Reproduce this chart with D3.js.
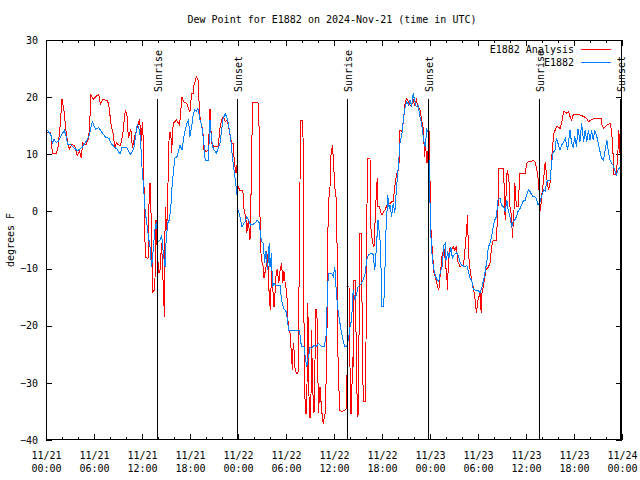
<!DOCTYPE html>
<html><head><meta charset="utf-8">
<script src="https://cdn.jsdelivr.net/npm/d3@7"></script>
<style>
body{margin:0;background:#fff}
text{font-family:"DejaVu Sans Mono",monospace;font-size:10px;fill:#000}
</style>
</head><body><svg id="c" width="640" height="480"></svg>
<script>
const chartTitle = "Dew Point for E1882 on 2024-Nov-21 (time in UTC)";
const yLabel = "degrees F";
const seriesNames = ["E1882 Analysis", "E1882"];
const seriesColors = ["#ff0000", "#0080ff"];
const yTickValues = [-40, -30, -20, -10, 0, 10, 20, 30];
const startTime = "2024-11-21T00:00:00Z";
const endTime = "2024-11-24T00:00:00Z";
const sunriseTimes = ["2024-11-21T13:49:00Z", "2024-11-22T13:41:00Z", "2024-11-23T13:40:00Z"];
const sunsetTimes = ["2024-11-21T23:55:00Z", "2024-11-22T23:47:00Z", "2024-11-23T23:43:00Z"];

// [hours since start, value]
const analysisSeries = [
[0,13.8],[0.6,13.8],[0.8,10.1],[1.3,10.1],[1.5,11.2],[1.75,14.7],[2,19.6],[2.25,17.6],[2.45,14.7],[2.7,12],[2.9,10.9],[3.2,11.7],[3.6,11.5],[3.9,9.7],[4.2,10.6],[4.4,9.4],[4.6,12],[5,11.7],[5.3,12.6],[5.45,14.7],[5.6,20.5],[5.9,19.6],[6.3,20.2],[6.6,20.5],[6.8,18.7],[7.1,19.6],[7.7,19.4],[7.9,18.1],[8.1,15.5],[8.4,13.5],[8.6,11.2],[8.8,12],[9,11.7],[9.3,11.5],[9.6,13.5],[9.9,17.6],[10.1,17.3],[10.3,12.9],[10.6,14.4],[10.8,11.2],[11.1,13.2],[11.4,14.7],[11.7,16.1],[11.9,12.3],[12.05,15.7],[12.2,11.2],[12.3,-2.5],[12.45,-8],[12.75,-8.3],[12.9,3],[13,5],[13.2,-3.25],[13.3,-14.1],[13.6,-13.75],[13.75,-1.5],[13.9,-6.75],[14.1,-10.8],[14.25,-10.25],[14.45,-5.6],[14.7,-14.6],[14.8,-18.4],[14.9,0.8],[15.1,-3.25],[15.25,4.9],[15.4,13.8],[15.6,13.8],[15.7,10.2],[15.9,15.4],[16.1,15.7],[16.3,16],[16.7,15.1],[17,20.1],[17.2,19.2],[17.6,18.9],[17.8,18],[18,17.5],[18.2,20.7],[18.4,20.7],[18.5,22.1],[18.8,23.5],[19,23],[19.2,17.2],[19.3,16],[19.6,14.25],[19.75,10.75],[20,10.5],[20.3,10.75],[20.5,18],[20.7,11.9],[20.8,11.6],[21.1,11.3],[21.5,11.3],[21.75,14.5],[21.95,16],[22.2,16.6],[22.4,15.7],[22.6,16],[22.8,15.1],[23,13.4],[23.2,12],[23.4,11.9],[23.5,9.6],[23.7,6.7],[23.8,8.1],[24,4.5],[24.2,3.75],[24.6,3.75],[24.75,0.5],[25,-1.5],[25.1,-3.8],[25.3,-1.5],[25.5,-5],[25.6,0.8],[25.75,13.1],[25.8,19],[26.5,19],[26.7,12.5],[26.75,-0.9],[26.9,-8.5],[27.1,-9.1],[27.25,-11.7],[27.5,-9.7],[27.6,-7],[27.8,-10.25],[27.9,-14.9],[28.05,-17.25],[28.2,-9.7],[28.3,-12.6],[28.5,-16.7],[28.6,-14.9],[28.75,-11.4],[28.9,-10],[29.1,-12.6],[29.25,-10.5],[29.45,-9.1],[29.6,-12.6],[29.75,-10.5],[29.9,-12.6],[30.1,-14.3],[30.3,-20.75],[30.5,-21.3],[30.7,-25.4],[30.8,-27.75],[30.9,-23.1],[31.05,-24.8],[31.1,-27.2],[31.3,-28.3],[31.5,-28.3],[31.6,-17.25],[31.75,4.9],[31.8,16],[32.1,16],[32.2,4.9],[32.25,-19.6],[32.4,-35.3],[32.6,-35.3],[32.7,-16],[32.8,-20.75],[32.9,-36],[33.1,-36],[33.2,-20.75],[33.3,-30.1],[33.5,-35.3],[33.75,-17],[33.9,-19],[34.05,-35.3],[34.25,-30.7],[34.45,-34.75],[34.65,-37.1],[34.9,-35.3],[35.1,-25.4],[35.2,-7.3],[35.3,1.4],[35.5,4.3],[35.6,9.6],[35.8,11.6],[35.9,9.6],[36.1,4.3],[36.3,2],[36.4,-7.9],[36.5,-25.4],[36.7,-34.75],[37,-35],[37.4,-34.75],[37.6,-34.5],[37.7,-13.2],[37.875,-13.2],[38,-27.2],[38.1,-35.3],[38.2,-35.3],[38.3,-25.4],[38.4,-27.2],[38.5,-12],[38.7,-12],[38.8,-29.5],[39,-35.9],[39.1,-25.4],[39.25,-3.8],[39.45,-3.8],[39.55,-27.2],[39.7,-33.3],[39.9,-33.3],[40,-23.1],[40.1,-1.5],[40.2,9.3],[40.5,9.3],[40.6,-2.7],[40.8,-5.3],[41,-6.2],[41.2,0.5],[41.3,3.2],[41.4,5.8],[41.5,0.8],[41.7,0.8],[41.8,0],[42,-0.6],[42.2,0],[42.4,0.25],[42.6,1.1],[42.8,1.4],[43,1.4],[43.2,1.7],[43.4,1.7],[43.6,4.3],[43.8,6.4],[44,7.25],[44.1,7.25],[44.25,14.25],[44.5,14],[44.7,16],[44.8,17.75],[44.9,19.2],[45.1,19.8],[45.3,19.2],[45.5,18.6],[45.7,18.6],[45.9,19.5],[46.1,18.6],[46.3,19.5],[46.5,18.3],[46.75,17.75],[46.95,16],[47.2,14.25],[47.3,9.6],[47.4,12.8],[47.6,8.4],[47.7,9],[47.875,14.25],[48,5.5],[48.1,-2.7],[48.3,-7],[48.5,-10.8],[48.75,-11.9],[48.95,-13.2],[49.1,-13.75],[49.3,-10.8],[49.5,-7.9],[49.75,-6.5],[49.9,-8.5],[50.1,-11.4],[50.2,-13.75],[50.3,-7.9],[50.5,-6.5],[50.7,-6.75],[50.9,-6.2],[51.1,-6.75],[51.3,-6.2],[51.5,-8.8],[51.75,-9.7],[51.95,-9.4],[52.2,-9.4],[52.4,-6.2],[52.6,-2.7],[52.7,-0.6],[52.8,-7.3],[53,-10],[53.2,-12],[53.4,-13.2],[53.6,-14.9],[53.8,-17.8],[54,-15.5],[54.25,-14.3],[54.4,-17.8],[54.5,-14.3],[54.8,-12],[55,-10.25],[55.3,-9.7],[55.5,-9.1],[55.7,-6.2],[55.9,-5],[56.3,-5],[56.5,0.8],[56.6,7.5],[57.2,7.5],[57.3,2.6],[57.4,-1.5],[57.6,6.7],[57.7,7],[57.9,4.9],[58,0.8],[58.2,-0.9],[58.3,-4.7],[58.5,0.25],[58.6,4.9],[58.8,0.8],[59,0.8],[59.25,6.7],[59.9,6.7],[60.1,8.4],[60.3,8.7],[60.7,8.7],[60.9,9],[61.1,8.7],[61.3,7.8],[61.5,5.8],[61.7,2.6],[61.8,0],[62,3.2],[62.2,5.5],[62.4,8.7],[62.6,5.8],[62.8,3.75],[63,4.9],[63.2,8.7],[63.3,11.3],[63.5,13.7],[63.8,14.8],[64,14.8],[64.25,14.5],[64.45,15.4],[64.7,17.5],[65.1,17.2],[65.3,17.5],[65.5,16.6],[65.7,16],[65.9,16.9],[66.75,16.9],[67.2,16.6],[67.6,16.3],[67.8,15.7],[68.2,16.1],[68.6,16.3],[69.4,16.3],[69.5,15.1],[69.7,14.5],[70.1,15.1],[70.5,15.4],[70.7,14.25],[70.9,9.6],[71,6.4],[71.3,6.4],[71.5,10.75],[71.6,14.25],[71.75,10.2],[72,12]
];
const stationSeries = [
[0,14.4],[0.6,13.5],[0.8,12],[1,12.6],[1.3,12],[1.6,12.4],[2,13.5],[2.3,14.2],[2.5,13.2],[2.7,11.7],[3.1,11.7],[3.4,11.2],[3.7,10.9],[3.9,10.6],[4.2,10.9],[4.5,11.2],[4.9,12],[5.4,13.2],[5.6,14.7],[5.8,15.7],[6,15],[6.2,14.4],[6.6,14.7],[7,13.8],[7.5,12.9],[7.9,12.8],[8.1,12],[8.5,11.3],[8.9,10.9],[9.25,10],[9.5,11.2],[10.1,11.2],[10.3,10.6],[10.6,9.9],[11,11.2],[11.4,15.2],[11.6,14.7],[11.8,12.9],[12,7.7],[12.2,4.2],[12.4,0],[12.6,-2.1],[12.8,-4.4],[13,-6.2],[13.2,-9.7],[13.4,-6.7],[13.6,-3.25],[13.8,-1.8],[14,-5.3],[14.25,-5],[14.45,-4.1],[14.7,-7.9],[14.9,-9.7],[15,-5.6],[15.2,-2.1],[15.4,-1.5],[15.6,0.5],[15.7,3.5],[15.9,6.5],[16.1,9.3],[16.4,9.6],[16.75,11.6],[17,10.75],[17.2,12.8],[17.4,14.25],[17.6,15.4],[17.8,16],[18,13.1],[18.2,14.8],[18.4,16.9],[18.6,17.75],[18.8,17.5],[19,18],[19.25,16],[19.45,15.1],[19.7,12.5],[19.9,9],[20.3,9],[20.5,16],[20.7,12.5],[20.9,11],[21.3,10.2],[21.75,11.9],[22.1,16],[22.4,17.2],[22.7,16],[22.9,14.5],[23.1,12.5],[23.3,9.6],[23.5,7.25],[23.75,4.5],[23.9,2.6],[24,0.25],[24.25,-0.9],[24.5,-2.7],[24.7,-2.1],[24.9,-1.8],[25.1,-0.9],[25.3,-1.5],[25.6,-2.4],[26.1,-2.1],[26.4,-1.5],[26.7,-2.1],[26.8,-4.4],[27,-5.3],[27.2,-5.6],[27.3,-9.1],[27.5,-7],[27.7,-10.25],[27.9,-5.6],[28,-9.7],[28.2,-7.3],[28.3,-13.2],[28.5,-12.6],[28.75,-12.9],[29.25,-12.9],[29.45,-15.5],[29.7,-17],[30,-17.5],[30.2,-19],[30.3,-20.75],[31.7,-20.75],[31.8,-22.5],[31.95,-23.7],[32.25,-23.7],[32.4,-25.4],[32.6,-27.2],[32.7,-26],[32.9,-24.8],[33,-23.7],[33.2,-24],[33.5,-23.4],[33.75,-23.7],[34.05,-23.1],[34.45,-23.7],[34.75,-23.7],[35,-21.9],[35.2,-13.75],[35.3,-10.8],[35.7,-10.8],[35.9,-11.4],[36.1,-9.7],[36.3,-14.3],[36.5,-17.25],[36.75,-19.6],[36.95,-21.3],[37.2,-23.1],[37.4,-23.7],[37.6,-23.5],[37.8,-22.5],[38,-20.2],[38.2,-19],[38.4,-13.75],[38.6,-15.5],[38.8,-14.6],[39,-13.2],[39.45,-12.6],[39.7,-11.7],[39.9,-10.8],[40.1,-8.5],[40.3,-7.6],[40.7,-7.3],[40.9,-7.6],[41.1,-10.25],[41.3,-6.2],[41.5,-1.5],[41.75,-5],[41.9,-10.8],[42,-16.7],[42.2,-16.7],[42.3,-13.75],[42.5,-3.25],[42.6,-0.9],[42.7,2.9],[42.9,0.5],[43,1.1],[43.2,-0.9],[43.4,1.4],[43.6,-0.3],[43.8,3.75],[44,7.25],[44.25,11.9],[44.5,13.7],[44.7,16.6],[44.9,18.3],[45.1,19.2],[45.3,18.6],[45.5,19.5],[45.7,18.3],[45.9,20.7],[46.1,19.2],[46.3,18.3],[46.5,18.6],[46.75,16.6],[46.95,15.4],[47.2,12.5],[47.4,11.3],[47.6,14.25],[47.8,13.7],[48,1.5],[48.1,-4],[48.3,-8.5],[48.5,-10.25],[48.7,-11.4],[48.9,-12],[49.1,-12.3],[49.3,-10.5],[49.5,-9.7],[49.75,-5.9],[49.9,-5.6],[50,-8.5],[50.2,-7.3],[50.4,-8.2],[50.6,-6.2],[50.8,-8.2],[51,-7.6],[51.3,-7.2],[51.5,-7.6],[51.75,-8.8],[51.95,-9.4],[52.4,-9.7],[52.6,-9.4],[52.8,-10.5],[53,-11.7],[53.2,-12],[53.4,-13.5],[53.6,-13.75],[54,-13.75],[54.25,-14.3],[54.5,-13.2],[54.7,-12],[54.9,-10.5],[55.1,-8.8],[55.3,-6.2],[55.5,-5.6],[55.7,-4.4],[55.9,-2.7],[56.1,-1.5],[56.3,-0.9],[56.5,2],[56.75,2.3],[56.95,1.1],[57.2,0.8],[57.4,0],[57.6,2],[57.8,0],[58,-0.9],[58.2,-2.7],[58.4,-1.8],[58.6,-1.5],[58.8,-0.9],[59,0],[59.25,0.5],[59.45,1.1],[59.7,2],[59.9,2],[60.1,2.9],[60.3,3.75],[60.5,3.5],[60.7,2.9],[60.9,2.6],[61.1,2.6],[61.3,2.3],[61.5,1.1],[61.75,1.7],[62,2.9],[62.2,3.75],[62.4,3.5],[62.6,5.2],[62.8,5.5],[63,5.5],[63.2,8.4],[63.4,10.5],[63.6,10.5],[63.8,12.8],[64,11.9],[64.25,10.75],[64.45,11.6],[64.7,12.2],[64.9,12.8],[65.1,11.6],[65.2,10.75],[65.4,13.1],[65.5,14.25],[65.7,11.9],[65.9,11.3],[66.1,13.1],[66.3,11.3],[66.5,14.5],[66.75,12.2],[66.95,15.4],[67.2,12.2],[67.4,14.25],[67.6,12.2],[67.8,14.25],[68,12.5],[68.2,14.25],[68.4,12.5],[68.6,14.25],[68.8,13.4],[69,12.2],[69.25,10.5],[69.45,9.3],[69.7,9],[69.9,10.75],[70.1,12.5],[70.3,10.5],[70.5,9],[70.7,8.4],[70.9,8.1],[71.1,7.25],[71.3,6.4],[71.5,7.25],[71.75,7.8],[72,8.5]
];

const svg = d3.select("#c");
const W = 640, H = 480;
const m = {left: 46, right: 622, top: 40, bottom: 440};
const t0 = new Date(startTime), t1 = new Date(endTime);
const x = d3.scaleUtc().domain([t0, t1]).range([m.left, m.right]);
const y = d3.scaleLinear().domain([-40, 30]).range([m.bottom, m.top]);
const hToDate = h => new Date(t0.getTime() + h * 3600e3);

svg.append("rect").attr("width", W).attr("height", H).attr("fill", "#fff");

svg.append("text").attr("x", 332).attr("y", 23).attr("text-anchor", "middle").text(chartTitle);
svg.append("text").attr("transform", "translate(14,240) rotate(-90)").attr("text-anchor", "middle").text(yLabel);

const majorTicks = d3.utcHour.every(6).range(t0, new Date(t1.getTime() + 1));
const minorTicks = d3.utcHour.every(2).range(t0, new Date(t1.getTime() + 1)).filter(d => d.getUTCHours() % 6 !== 0);

function styleAxis(g) {
  g.select(".domain").remove();
  g.selectAll("line").attr("stroke", "#000").attr("shape-rendering", "crispEdges");
}

const gxb = svg.append("g").attr("transform", `translate(0,${m.bottom})`)
  .call(d3.axisBottom(x).tickValues(majorTicks).tickSizeInner(-6).tickSizeOuter(0).tickFormat(""));
styleAxis(gxb);
gxb.selectAll(".tick").each(function(d) {
  const t = d3.select(this).select("text").attr("y", null).attr("dy", null);
  t.append("tspan").attr("x", 0).attr("y", 19).text(d3.utcFormat("%m/%d")(d));
  t.append("tspan").attr("x", 0).attr("y", 32).text(d3.utcFormat("%H:%M")(d));
});
gxb.selectAll("text").style("font-family", '"DejaVu Sans Mono",monospace').style("font-size", "10px");
const gxbm = svg.append("g").attr("transform", `translate(0,${m.bottom})`)
  .call(d3.axisBottom(x).tickValues(minorTicks).tickSizeInner(-3).tickSizeOuter(0).tickFormat(""));
styleAxis(gxbm);
const gxt = svg.append("g").attr("transform", `translate(0,${m.top})`)
  .call(d3.axisTop(x).tickValues(majorTicks).tickSizeInner(-6).tickSizeOuter(0).tickFormat(""));
styleAxis(gxt);
const gxtm = svg.append("g").attr("transform", `translate(0,${m.top})`)
  .call(d3.axisTop(x).tickValues(minorTicks).tickSizeInner(-3).tickSizeOuter(0).tickFormat(""));
styleAxis(gxtm);

const gyl = svg.append("g").attr("transform", `translate(${m.left},0)`)
  .call(d3.axisLeft(y).tickValues(yTickValues).tickSizeInner(-6).tickSizeOuter(0).tickPadding(8).tickFormat(d3.format("d")));
styleAxis(gyl);
gyl.selectAll("text").style("font-family", '"DejaVu Sans Mono",monospace').style("font-size", "10px");
const gyr = svg.append("g").attr("transform", `translate(${m.right},0)`)
  .call(d3.axisRight(y).tickValues(yTickValues).tickSizeInner(-6).tickSizeOuter(0).tickFormat(""));
styleAxis(gyr);

svg.append("clipPath").attr("id", "plot").append("rect")
  .attr("x", m.left).attr("y", m.top).attr("width", m.right - m.left).attr("height", m.bottom - m.top);

const line = d3.line().x(d => x(hToDate(d[0]))).y(d => y(d[1]));
const plot = svg.append("g").attr("clip-path", "url(#plot)");
[analysisSeries, stationSeries].forEach((s, i) => {
  plot.append("path").datum(s).attr("d", line).attr("fill", "none")
    .attr("stroke", seriesColors[i]).attr("stroke-width", 1)
    .attr("shape-rendering", "crispEdges");
});

const events = sunriseTimes.map(t => ({t: new Date(t), label: "Sunrise"}))
  .concat(sunsetTimes.map(t => ({t: new Date(t), label: "Sunset"})));
events.forEach(e => {
  const xx = Math.round(x(e.t)) + 0.5;
  svg.append("line").attr("x1", xx).attr("x2", xx).attr("y1", 99).attr("y2", m.bottom)
    .attr("stroke", "#000").attr("stroke-width", 1).attr("shape-rendering", "crispEdges");
  svg.append("text").attr("transform", `translate(${xx + 1},92) rotate(-90)`)
    .attr("dominant-baseline", "central").attr("text-anchor", "start").text(e.label);
});

seriesNames.forEach((name, i) => {
  const ly = 49 + i * 13;
  svg.append("text").attr("x", 574).attr("y", ly + 4).attr("text-anchor", "end").text(name);
  svg.append("line").attr("x1", 581).attr("x2", 611).attr("y1", ly + 0.5).attr("y2", ly + 0.5)
    .attr("stroke", seriesColors[i]).attr("stroke-width", 1).attr("shape-rendering", "crispEdges");
});

svg.append("rect").attr("x", m.left + 0.5).attr("y", m.top + 0.5)
  .attr("width", m.right - m.left - 1).attr("height", m.bottom - m.top - 1)
  .attr("fill", "none").attr("stroke", "#000").attr("stroke-width", 1)
  .attr("shape-rendering", "crispEdges");
</script>
</body></html>
